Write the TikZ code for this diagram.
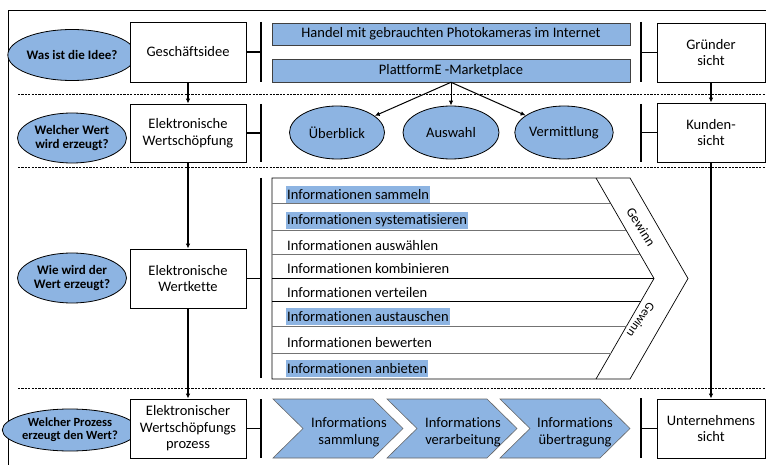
\documentclass[tikz,border=0pt]{standalone}
\usepackage{fontspec}
\setmainfont{Carlito}[Ligatures={NoCommon}]
\usetikzlibrary{arrows.meta,shapes.geometric}
\definecolor{fillblue}{RGB}{141,180,226}

\begin{document}
\begin{tikzpicture}[x=1pt,y=-1pt,
  txt/.style={font=\fontsize{14.5}{16.5}\selectfont},
  box/.style={draw, line width=0.8pt, fill=white, align=center, inner sep=0pt, txt},
  question/.style={ellipse, draw, fill=fillblue, line width=0.8pt, align=center, inner sep=0pt,
    font=\bfseries\fontsize{13}{14.5}\selectfont, minimum width=109pt, minimum height=51pt},
  facet/.style={ellipse, draw, fill=fillblue, line width=0.8pt, inner sep=0pt, txt,
    minimum width=95pt, minimum height=53pt},
  bar/.style={draw=black!75, line width=0.6pt, fill=fillblue, inner sep=0pt, txt,
    minimum width=358pt},
  bracket/.style={line width=1.3pt},
  link/.style={line width=1.3pt, -{Latex[length=5pt,width=4.5pt]}},
  fan/.style={line width=1pt, -{Latex[length=5pt,width=4.5pt]}},
  sep/.style={line width=1pt, dash pattern=on 2.2pt off 1.2pt},
  step item/.style={anchor=west, inner xsep=1pt, inner ysep=0pt, minimum height=16.5pt, txt},
  marked/.style={fill=fillblue},
  chev/.style={draw=black!60, line width=0.6pt, fill=fillblue},
  chevtext/.style={align=center, txt},
  gain/.style={font=\fontsize{13.5}{15}\selectfont, inner sep=0pt},
]
\useasboundingbox (0,0) rectangle (766,465);

% outer frame (top and left edges)
\draw[line width=0.9pt] (8,465) -- (8,10) -- (766,10);

% row separators
\draw[sep] (18,95) -- (766,95);
\draw[sep] (18,168) -- (766,168);
\draw[sep] (18,388) -- (766,388);

% guiding questions
\node[question] (q1) at (72,55) {Was ist die Idee?};
\node[question, minimum height=50pt] (q2) at (72,138) {Welcher Wert\\wird erzeugt?};
\node[question, minimum height=50pt] (q3) at (72,278) {Wie wird der\\Wert erzeugt?};
\node[question, minimum width=104pt, minimum height=42pt, font=\bfseries\fontsize{12.5}{13}\selectfont] (q4) at (70,430) {Welcher Prozess\\erzeugt den Wert?};

% levels
\node[box, minimum width=116pt, minimum height=60pt] (l1) at (188,52) {Geschäftsidee};
\node[box, minimum width=116pt, minimum height=58pt] (l2) at (188,133) {Elektronische\\Wertschöpfung};
\node[box, minimum width=116pt, minimum height=59pt] (l3) at (188,278.5) {Elektronische\\Wertkette};
\node[box, minimum width=116pt, minimum height=59pt] (l4) at (188,428.5) {Elektronischer\\Wertschöpfungs\\prozess};

\draw[link] (l1) -- (l2);
\draw[link] (l2) -- (l3);
\draw[link] (l3) -- (l4);

% perspectives
\node[box, minimum width=108pt, minimum height=59pt] (r1) at (711,52.5) {Gründer\\sicht};
\node[box, minimum width=108pt, minimum height=59pt] (r2) at (711,132.5) {Kunden-\\sicht};
\node[box, minimum width=108pt, minimum height=59pt] (r4) at (711,428.5) {Unternehmens\\sicht};

\draw[link] (r1) -- (r2);
\draw[link] (r2) -- (r4);

% left brackets
\coordinate (bl1) at (261,52);
\coordinate (bl2) at (261,133);
\coordinate (bl3) at (261,278.5);
\coordinate (bl4) at (261,428.5);
\draw[bracket] (261,22) -- (261,82);
\draw[bracket] (261,104) -- (261,162);
\draw[bracket] (261,178) -- (261,378);
\draw[bracket] (261,399) -- (261,458);
\draw[bracket] (l1.east) -- (bl1);
\draw[bracket] (l2.east) -- (bl2);
\draw[bracket] (l3.east) -- (bl3);
\draw[bracket] (l4.east) -- (bl4);

% right brackets
\coordinate (br1) at (641,52.5);
\coordinate (br2) at (641,132.5);
\coordinate (br4) at (641,428.5);
\draw[bracket] (641,22) -- (641,82);
\draw[bracket] (641,104) -- (641,162);
\draw[bracket] (641,398) -- (641,458);
\draw[bracket] (br1) -- (r1.west);
\draw[bracket] (br2) -- (r2.west);
\draw[bracket] (br4) -- (r4.west);

% business idea
\node[bar, minimum height=22pt] (idea) at (451,34) {Handel mit gebrauchten Photokameras im Internet};
\node[bar, minimum height=23pt] (platform) at (451,70.5) {PlattformE -Marketplace};

% value facets
\node[facet] (f1) at (337,132.5) {Überblick};
\node[facet, minimum width=96pt] (f2) at (451,132.5) {Auswahl};
\node[facet] (f3) at (564,132.5) {Vermittlung};
\draw[fan] (platform.south) -- (f1);
\draw[fan] (platform.south) -- (f2);
\draw[fan] (platform.south) -- (f3);

% value chain
\draw[line width=0.7pt] (272,178) -- (630,178) -- (688,278.5) -- (630,379) -- (272,379) -- cycle;
\draw[line width=0.7pt] (596,178) -- (654,278.5) -- (596,379);
\draw[line width=0.7pt, black!55] (272,203) -- (610.4,203);
\draw[line width=0.7pt, black!55] (272,230) -- (626.0,230);
\draw[line width=0.7pt, black!55] (272,254) -- (639.9,254);
\draw[line width=0.7pt] (272,278.5) -- (654,278.5);
\draw[line width=0.7pt] (272,301) -- (641.0,301);
\draw[line width=0.7pt, black!55] (272,326) -- (626.6,326);
\draw[line width=0.7pt, black!55] (272,353) -- (611.0,353);

\node[step item, marked] (s1) at (286,194.5) {Informationen sammeln};
\node[step item, marked] (s2) at (286,220.5) {Informationen systematisieren};
\node[step item] (s3) at (286,245.5) {Informationen auswählen};
\node[step item] (s4) at (286,269) {Informationen kombinieren};
\node[step item] (s5) at (286,292.5) {Informationen verteilen};
\node[step item, marked] (s6) at (286,316.5) {Informationen austauschen};
\node[step item] (s7) at (286,343) {Informationen bewerten};
\node[step item, marked] (s8) at (286,368.5) {Informationen anbieten};

\node[gain, rotate=-58] (g1) at (641,227) {Gewinn};
\node[gain, rotate=-125, font=\fontsize{12.5}{14}\selectfont] (g2) at (641,320) {Gewinn};

% process stages
\foreach \l in {273,387,500}{
  \path[chev] (\l,399) -- ++(100,0) -- ++(30,29.5) -- ++(-30,29.5) -- ++(-100,0) -- ++(30,-29.5) -- cycle;
}
\node[chevtext] (p1) at (349,432.5) {Informations\\sammlung};
\node[chevtext] (p2) at (463,432.5) {Informations\\verarbeitung};
\node[chevtext] (p3) at (575,432.5) {Informations\\übertragung};
\end{tikzpicture}
\end{document}
